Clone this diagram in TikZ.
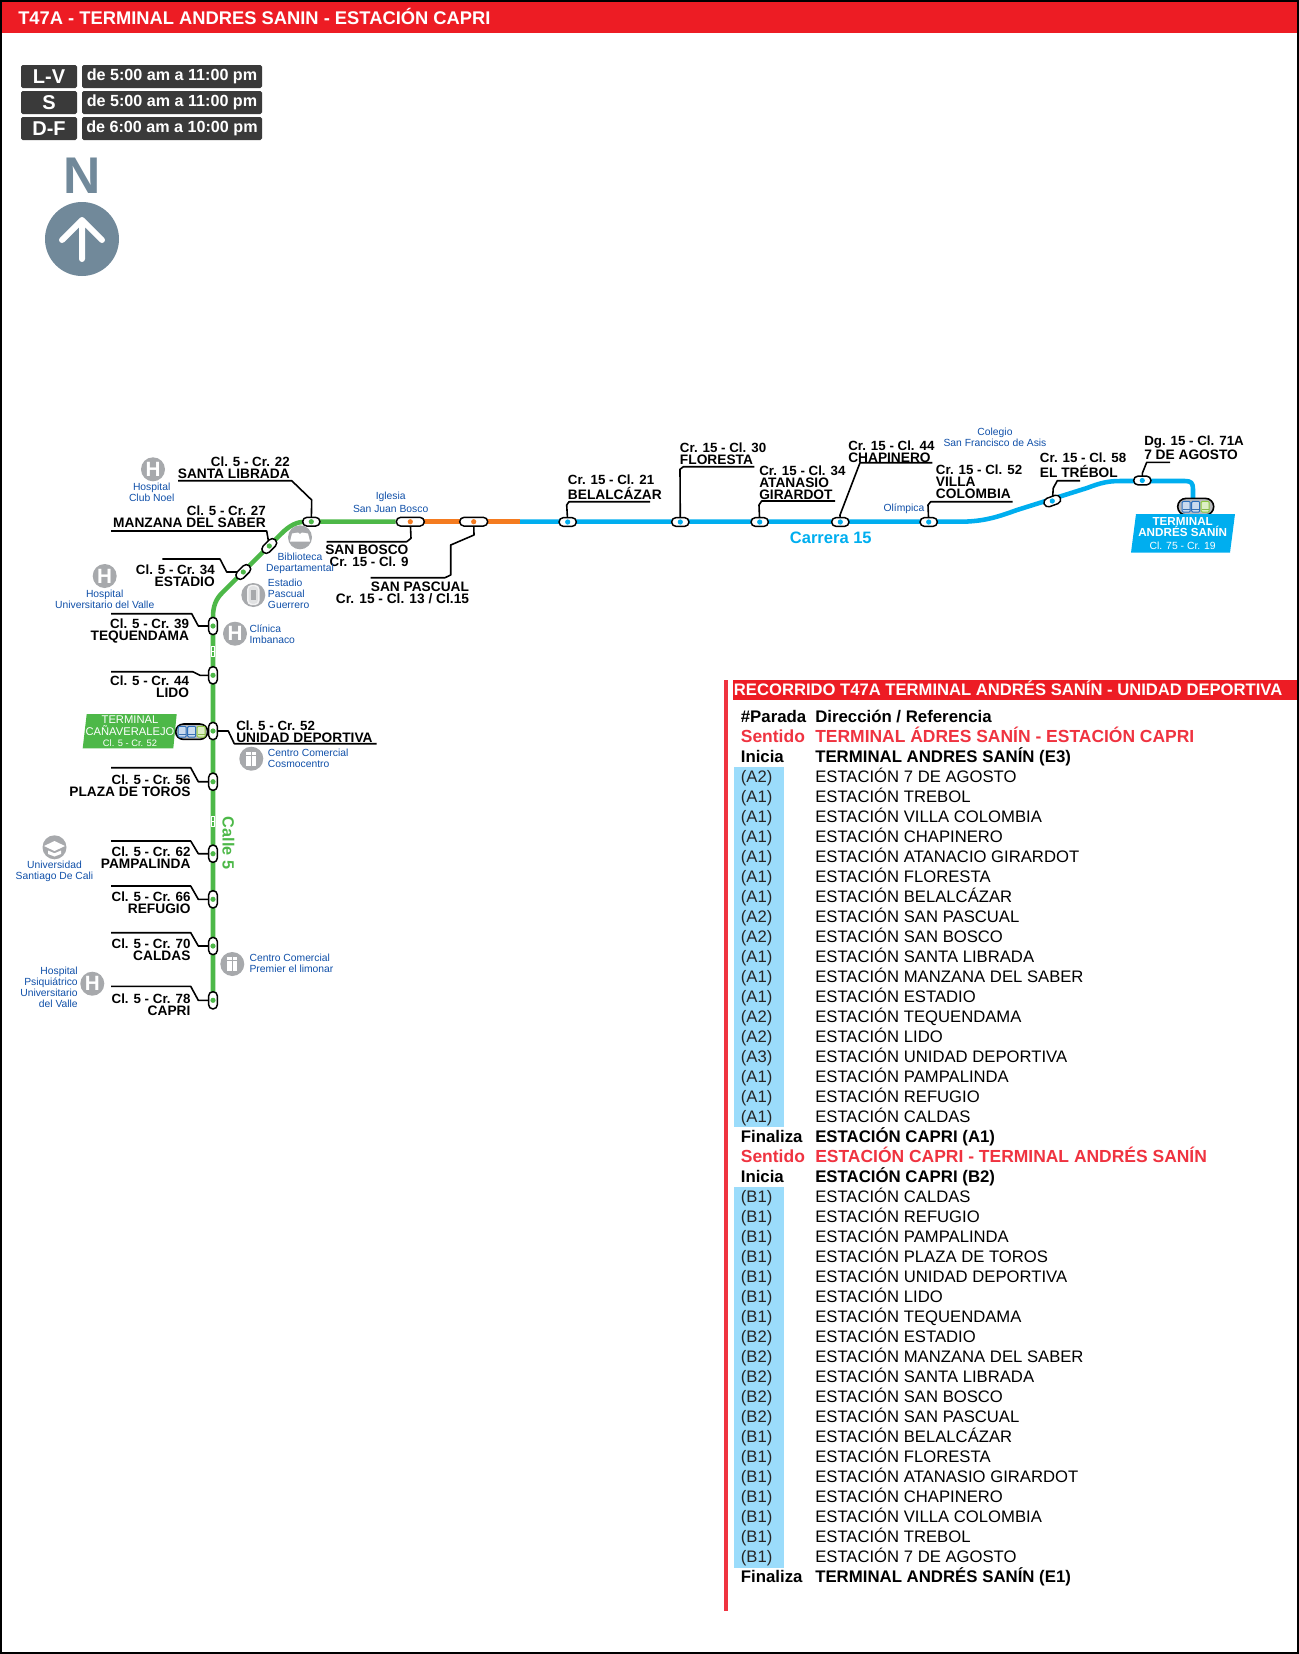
\documentclass[tikz,border=0pt]{standalone}
\usepackage{fontspec}
\setmainfont{Liberation Sans}
\usetikzlibrary{shapes.misc,backgrounds}
\definecolor{mioblue}{HTML}{00AEEF}
\definecolor{miogreen}{HTML}{4DB848}
\definecolor{mioorange}{HTML}{F47B20}
\definecolor{titlered}{HTML}{ED1C24}
\definecolor{rowred}{HTML}{EF3340}
\definecolor{rowblue}{HTML}{9BDCFB}
\definecolor{schedgray}{HTML}{3A3A3A}
\definecolor{slate}{HTML}{71899A}
\definecolor{poigray}{HTML}{A7A9AC}
\definecolor{poiblue}{HTML}{0F4FA8}
\definecolor{busblue}{HTML}{2A6EBB}
\definecolor{busgreen}{HTML}{8CC63F}
\newcommand{\via}[1]{{\fontsize{10}{9}\selectfont\bfseries #1}}
\tikzset{
stopbox/.style={shape=rounded rectangle,draw=black,fill=white,line width=1.1pt,inner sep=0pt,minimum width=13pt,minimum height=6.6pt},
widebox/.style={stopbox,minimum width=21pt},
termbox/.style={shape=rounded rectangle,draw=black,fill=poigray!80,line width=1.2pt,inner sep=0pt},
stoplabel/.style={inner sep=0pt,align=#1,font=\fontsize{10.3}{9}\selectfont\bfseries},
poilabel/.style={inner sep=0pt,align=#1,text=poiblue,font=\fontsize{7.75}{8.25}\selectfont},
poidot/.style={circle,fill=poigray,inner sep=0pt,minimum size=18pt,text=white,font=\fontsize{15.5}{15.5}\selectfont\bfseries},
leader/.style={draw=black,line width=1.2pt,line join=round},
route/.style={line width=3.4pt,line join=round},
schedbox/.style={fill=schedgray,rounded corners=1.2pt,text=white,inner sep=0pt,minimum height=17.25pt,font=\bfseries},
rowcode/.style={anchor=base west,inner sep=0pt,text=black!85,font=\fontsize{12.5}{14}\selectfont},
rowname/.style={anchor=base west,inner sep=0pt,font=\fontsize{12.5}{14}\selectfont},
rowbold/.style={rowname,font=\fontsize{12.6}{14}\selectfont\bfseries},
rowhot/.style={rowname,text=rowred,font=\fontsize{13.1}{14}\selectfont\bfseries},
termtext/.style={inner sep=0pt,align=center,text=white,font=\fontsize{8.75}{8.6}\selectfont\bfseries},
}
\begin{document}
\begin{tikzpicture}[x=0.75pt,y=-0.75pt]
\useasboundingbox (0,0) rectangle (1299,1654);
\fill[titlered] (2,2) rectangle (1299,33);
\node[anchor=base west,inner sep=0pt,text=white,font=\fontsize{13.75}{15}\selectfont\bfseries] (title) at (18,24.5) {T47A - TERMINAL ANDRES SANIN - ESTACIÓN CAPRI};

\foreach \dia/\hora/\y [count=\i] in {L-V/de 5:00 am a 11:00 pm/76.5,S/de 5:00 am a 11:00 pm/102.5,D-F/de 6:00 am a 10:00 pm/128.5}{
\node[schedbox,minimum width=42pt,font=\fontsize{15}{15}\selectfont\bfseries] (dia\i) at (49,\y) {\raisebox{-.7pt}{\dia}};
\node[schedbox,minimum width=135pt,font=\fontsize{12.1}{14}\selectfont\bfseries] (hora\i) at (172,\y) {\raisebox{-.7pt}{\hora}};
}
\node[inner sep=0pt,text=slate,font=\fontsize{38.7}{40}\selectfont\bfseries] (northN) at (82,175.5) {N};
\node[circle,fill=slate,inner sep=0pt,minimum size=55.5pt] (northdot) at (82,239) {};
\draw[white,line width=4.5pt,line cap=round,line join=round] (82,259)--(82,220) (62,240)--(82,220)--(102,240);

\foreach \name/\x/\y in {stlibrada/311.3/521.7,belalcazar/567.7/522,floresta/680.3/522,atanasio/759.7/522,chapinero/840.3/522,villa/928.7/522,agosto/1142.3/480.5}
\node[stopbox] (\name) at (\x,\y) {};
\foreach \name/\x in {sanbosco/410.3,sanpascual/473.7}
\node[widebox] (\name) at (\x,521.7) {};
\node[stopbox,rotate=45] (manzana) at (269.3,546) {};
\node[stopbox,rotate=45] (estadio) at (243.3,572) {};
\node[stopbox,rotate=20] (trebol) at (1052.3,501) {};
\foreach \name/\y in {tequendama/626,lido/675.3,unidad/731,plaza/781.7,pampalinda/853.7,refugio/899.3,caldas/946,capri/1000.3}
\node[stopbox,rotate=90] (\name) at (213,\y) {};
\foreach \name in {stlibrada,manzana,estadio,tequendama,lido,unidad,plaza,pampalinda,refugio,caldas,capri}
\fill[miogreen] (\name) circle[radius=2.6];
\foreach \name in {sanbosco,sanpascual}
\fill[mioorange] (\name) circle[radius=2.6];
\foreach \name in {belalcazar,floresta,atanasio,chapinero,villa,trebol,agosto}
\fill[mioblue] (\name) circle[radius=2.6];

\node[termbox,minimum width=27pt,minimum height=12.5pt] (termsanin) at (1195.7,506.7) {};
\node[termbox,minimum width=24pt,minimum height=11.5pt] (termcana) at (191.7,731.7) {};
\foreach \term in {termsanin,termcana}
\foreach \tb/\col/\pale in {-9.5/busblue/busblue!25,0/busblue/busblue!25,9.5/busgreen/busgreen!30}{
\draw[\col,fill=\pale,line width=.7pt,rounded corners=.8pt] ([xshift=\tb*.75pt-3pt,yshift=-4pt]\term.center) rectangle ++(6pt,8pt);
\fill[\col!80!gray] ([xshift=\tb*.75pt-2.6pt,yshift=-2.6pt]\term.center) rectangle ++(5.2pt,1.1pt);
}

\begin{scope}[on background layer]
\draw[route,miogreen] (capri.center)--(213,617) .. controls (213,606) and (216,599) .. (222,593)--(281,534) .. controls (290,525) and (297,521.7) .. (306,521.7)--(sanbosco.west);
\draw[route,mioorange] (sanbosco.center)--(520,521.7);
\draw[route,mioblue] (520,521.7)--(960,521.7) .. controls (985,521.7) and (1000,516) .. (1017,510)--(1087,488) .. controls (1100,483) and (1108,481) .. (1120,481)--(1185,481) .. controls (1191,481) and (1193,483) .. (1193,489)--(1193,500);
\draw[leader] (stlibrada.center)--(311.7,500)--(291.7,480.7)--(178,480.7);
\draw[leader] (manzana.center)--(266.7,531)--(111,531);
\draw[leader] (estadio.center)--(226.7,572)--(220,559)--(162.3,559);
\draw[leader] (tequendama.center)--(198.3,626)--(191.7,613.7)--(111,613.7);
\draw[leader] (lido.center)--(200,675.3)--(192.7,671.7)--(111,671.7);
\draw[leader] (unidad.center)--(228.3,731)--(234.3,743.7)--(376.7,743.7);
\draw[leader] (unidad.center)--(termcana.center);
\draw[leader] (plaza.center)--(198.3,781.7)--(190.7,767.7)--(111,767.7);
\draw[leader] (pampalinda.center)--(198.3,853.7)--(190.7,841)--(111,841);
\draw[leader] (refugio.center)--(198.3,899.3)--(190.7,886)--(111,886);
\draw[leader] (caldas.center)--(198.3,946)--(190.7,932.7)--(111,932.7);
\draw[leader] (capri.center)--(198.3,1000.3)--(190.7,986.3)--(111,986.3);
\draw[leader] (sanbosco.center)--(411,538.3)--(406.7,541.7)--(326.7,541.7);
\draw[leader] (sanpascual.center)--(474,535)--(450.7,545)--(450.7,575)--(445,577.7)--(370.7,577.7);
\draw[leader] (belalcazar.center)--(566.7,505)--(569,501.7)--(650,501.7);
\draw[leader] (floresta.center)--(680,469.3)--(683.3,466.7)--(754.3,466.7);
\draw[leader] (atanasio.center)--(759,505)--(761.7,501)--(835,501);
\draw[leader] (chapinero.center)--(840,515)--(860,462.7)--(932.3,462.7);
\draw[leader] (villa.center)--(928,505)--(930.7,501.7)--(1012.7,501.7);
\draw[leader] (trebol.center)--(1053.3,488)--(1057.3,480.7)--(1080,480.7);
\draw[leader] (agosto.center)--(1142.3,473.3)--(1146.7,462.3)--(1170,462.3);
\end{scope}
\foreach \y in {651.7,821.7}{
\draw[white,line width=.55pt] (211.3,\y-5) rectangle (214.7,\y+5);
\draw[white,line width=.55pt] (211.3,\y)--(214.7,\y);
}

\node[stoplabel=right,anchor=east] (lblstlibrada) at (290,467.5) {\via{Cl. 5 - Cr. 22}\\SANTA LIBRADA};
\node[stoplabel=right,anchor=east] (lblmanzana) at (266,517) {\via{Cl. 5 - Cr. 27}\\MANZANA DEL SABER};
\node[stoplabel=right,anchor=east] (lblestadio) at (215,575.3) {\via{Cl. 5 - Cr. 34}\\ESTADIO};
\node[stoplabel=right,anchor=east] (lbltequendama) at (189.3,631) {\via{Cl. 5 - Cr. 39}\\TEQUENDAMA};
\node[stoplabel=right,anchor=east] (lbllido) at (189.3,687) {\via{Cl. 5 - Cr. 44}\\LIDO};
\node[stoplabel=left,anchor=west] (lblunidad) at (236,731.5) {\via{Cl. 5 - Cr. 52}\\UNIDAD DEPORTIVA};
\node[stoplabel=right,anchor=east] (lblplaza) at (190.7,786) {\via{Cl. 5 - Cr. 56}\\PLAZA DE TOROS};
\node[stoplabel=right,anchor=east] (lblpampalinda) at (190.7,857.3) {\via{Cl. 5 - Cr. 62}\\PAMPALINDA};
\node[stoplabel=right,anchor=east] (lblrefugio) at (190.7,902.3) {\via{Cl. 5 - Cr. 66}\\REFUGIO};
\node[stoplabel=right,anchor=east] (lblcaldas) at (190.7,949.8) {\via{Cl. 5 - Cr. 70}\\CALDAS};
\node[stoplabel=right,anchor=east] (lblcapri) at (190.7,1004.8) {\via{Cl. 5 - Cr. 78}\\CAPRI};
\node[stoplabel=right,anchor=east] (lblsanbosco) at (408.7,555.3) {SAN BOSCO\\\via{Cr. 15 - Cl. 9}};
\node[stoplabel=right,anchor=east] (lblsanpascual) at (469.3,593) {SAN PASCUAL\\Cr. 15 - Cl. 13 / Cl.15};
\node[stoplabel=left,anchor=west] (lblbelalcazar) at (567.7,487.5) {\via{Cr. 15 - Cl. 21}\\[1pt]BELALCÁZAR};
\node[stoplabel=left,anchor=west] (lblfloresta) at (679.7,453.5) {\via{Cr. 15 - Cl. 30}\\FLORESTA};
\node[stoplabel=left,anchor=west] (lblatanasio) at (759,483) {\via{Cr. 15 - Cl. 34}\\ATANASIO\\GIRARDOT};
\node[stoplabel=left,anchor=west] (lblchapinero) at (848,451.3) {\via{Cr. 15 - Cl. 44}\\CHAPINERO};
\node[stoplabel=left,anchor=west] (lblvilla) at (935.7,482) {\via{Cr. 15 - Cl. 52}\\VILLA\\COLOMBIA};
\node[stoplabel=left,anchor=west] (lbltrebol) at (1039.7,465.3) {\via{Cr. 15 - Cl. 58}\\[1.5pt]EL TRÉBOL};
\node[stoplabel=left,anchor=west] (lblagosto) at (1144,448) {\via{Dg. 15 - Cl. 71A}\\[.5pt]7 DE AGOSTO};

\node[inner sep=0pt,text=mioblue,font=\fontsize{12.4}{14}\selectfont\bfseries] (carrera) at (830.8,537.7) {Carrera 15};
\node[inner sep=0pt,text=miogreen,rotate=-90,font=\fontsize{12.2}{14}\selectfont\bfseries] (calle) at (228.5,843) {Calle 5};

\fill[mioblue] (1136,514)--(1235,514)--(1230,552.7)--(1131,552.7)--cycle;
\node[termtext] (termsanintxt) at (1182.7,533.5) {TERMINAL\\ANDRÉS SANÍN\\[1.4pt]{\fontsize{7.8}{8}\selectfont\mdseries Cl. 75 - Cr. 19}};
\fill[miogreen] (86.7,714)--(176.7,714)--(173.3,748.3)--(82.7,748.3)--cycle;
\node[termtext,font=\fontsize{8.4}{8.4}\selectfont] (termcanatxt) at (130,731.5) {TERMINAL\\CAÑAVERALEJO\\[.4pt]{\fontsize{7}{7}\selectfont Cl. 5 - Cr. 52}};

\node[poidot] (poinoel) at (153,469.3) {H};
\node[poilabel=center] (txtnoel) at (151.7,492.7) {Hospital\\Club Noel};
\node[poidot] (poibiblio) at (300,537.3) {};
\fill[white] (292,533.5)--(298,532.5)--(300,534)--(302,532.5)--(308,533.5)--(310,541.5)--(290,541.5)--cycle;
\node[poilabel=center] (txtbiblio) at (300,563.7) {Biblioteca\\Departamental};
\node[poilabel=center] (txtiglesia) at (390.7,502.3) {Iglesia\\[1.2pt]San Juan Bosco};
\node[poidot] (poihuv) at (104.7,576) {H};
\node[poilabel=center] (txthuv) at (104.7,599.2) {Hospital\\Universitario del Valle};
\node[poidot] (poiestadio) at (253.3,595) {};
\draw[white!85!poigray,fill=white!65!poigray,line width=1.1pt,rounded corners=3pt] (247.8,585.5) rectangle (258.8,604.5);
\fill[poigray] (250.8,590) rectangle (255.8,600);
\node[poilabel=left,anchor=west] (txtestadio) at (267.7,594.2) {Estadio\\Pascual\\Guerrero};
\node[poidot] (poiclinica) at (235,633.7) {H};
\node[poilabel=left,anchor=west] (txtclinica) at (249.3,634.2) {Clínica\\Imbanaco};
\foreach \name/\x/\y in {poicosmo/251.3/758.7,poipremier/232.3/964}{
\node[poidot] (\name) at (\x,\y) {};
\fill[white] (\x-5,\y-7) rectangle (\x+5,\y+7);
\draw[poigray,line width=.5pt] (\x,\y-7)--(\x,\y+7) (\x-5,\y-3.5)--(\x+5,\y-3.5);
}
\node[poilabel=left,anchor=west] (txtcosmo) at (267.7,758) {Centro Comercial\\Cosmocentro};
\node[poilabel=left,anchor=west] (txtpremier) at (249.3,963.7) {Centro Comercial\\Premier el limonar};
\node[poidot] (poipsiq) at (92.3,983.7) {H};
\node[poilabel=right,anchor=east] (txtpsiq) at (78,986.8) {Hospital\\Psiquiátrico\\Universitario\\del Valle};
\node[poidot] (poiusc) at (54.5,847.3) {};
\fill[white] (54.5,841)--(65,846)--(54.5,851)--(44,846)--cycle;
\fill[white] (48,850.5)--(54.5,853.3)--(61,850.5)--(61,854)--(54.5,856.5)--(48,854)--cycle;
\node[poilabel=center] (txtusc) at (54.5,871.2) {Universidad\\Santiago De Cali};
\node[poilabel=center] (txtcolegio) at (995,436.8) {Colegio\\San Francisco de Asis};
\node[poilabel=center] (txtolimpica) at (904,508.7) {Olímpica};

\fill[rowred] (724,680) rectangle (727.7,1611);
\fill[titlered] (732.5,680) rectangle (1299,700);
\node[anchor=base west,inner sep=0pt,text=white,font=\fontsize{12.47}{14}\selectfont\bfseries] (rechead) at (733.7,695) {RECORRIDO T47A TERMINAL ANDRÉS SANÍN - UNIDAD DEPORTIVA};
\fill[rowblue] (734,767) rectangle (784,1127);
\fill[rowblue] (734,1187) rectangle (784,1567.7);

\node[rowbold] (colparada) at (740.6,722.6) {\#Parada};
\node[rowbold] (coldirec) at (815,722.6) {Dirección / Referencia};
\node[rowhot] (sentidoa) at (740.6,742.6) {Sentido};
\node[rowhot] (sentidoatxt) at (815,742.6) {TERMINAL ÁDRES SANÍN - ESTACIÓN CAPRI};
\node[rowbold] (iniciaa) at (740.6,762.6) {Inicia};
\node[rowbold] (iniciaatxt) at (815,762.6) {TERMINAL ANDRES SANÍN (E3)};
\foreach \stp/\nom [count=\i from 0] in {A2/7 DE AGOSTO,A1/TREBOL,A1/VILLA COLOMBIA,A1/CHAPINERO,A1/ATANACIO GIRARDOT,A1/FLORESTA,A1/BELALCÁZAR,A2/SAN PASCUAL,A2/SAN BOSCO,A1/SANTA LIBRADA,A1/MANZANA DEL SABER,A1/ESTADIO,A2/TEQUENDAMA,A2/LIDO,A3/UNIDAD DEPORTIVA,A1/PAMPALINDA,A1/REFUGIO,A1/CALDAS}{
\node[rowcode] (coda\i) at (740.6,782.6+20*\i) {(\stp)};
\node[rowname] (noma\i) at (815,782.6+20*\i) {ESTACIÓN \nom};
}
\node[rowbold] (finala) at (740.6,1142.6) {Finaliza};
\node[rowbold] (finalatxt) at (815,1142.6) {ESTACIÓN CAPRI (A1)};
\node[rowhot] (sentidob) at (740.6,1162.6) {Sentido};
\node[rowhot] (sentidobtxt) at (815,1162.6) {ESTACIÓN CAPRI - TERMINAL ANDRÉS SANÍN};
\node[rowbold] (iniciab) at (740.6,1182.6) {Inicia};
\node[rowbold] (iniciabtxt) at (815,1182.6) {ESTACIÓN CAPRI (B2)};
\foreach \stp/\nom [count=\i from 0] in {B1/CALDAS,B1/REFUGIO,B1/PAMPALINDA,B1/PLAZA DE TOROS,B1/UNIDAD DEPORTIVA,B1/LIDO,B1/TEQUENDAMA,B2/ESTADIO,B2/MANZANA DEL SABER,B2/SANTA LIBRADA,B2/SAN BOSCO,B2/SAN PASCUAL,B1/BELALCÁZAR,B1/FLORESTA,B1/ATANASIO GIRARDOT,B1/CHAPINERO,B1/VILLA COLOMBIA,B1/TREBOL,B1/7 DE AGOSTO}{
\node[rowcode] (codb\i) at (740.6,1202.6+20*\i) {(\stp)};
\node[rowname] (nomb\i) at (815,1202.6+20*\i) {ESTACIÓN \nom};
}
\node[rowbold] (finalb) at (740.6,1582.6) {Finaliza};
\node[rowbold] (finalbtxt) at (815,1582.6) {TERMINAL ANDRÉS SANÍN (E1)};
\draw[black,line width=1.5pt] (1,1) rectangle (1298,1652.5);
\end{tikzpicture}
\end{document}
